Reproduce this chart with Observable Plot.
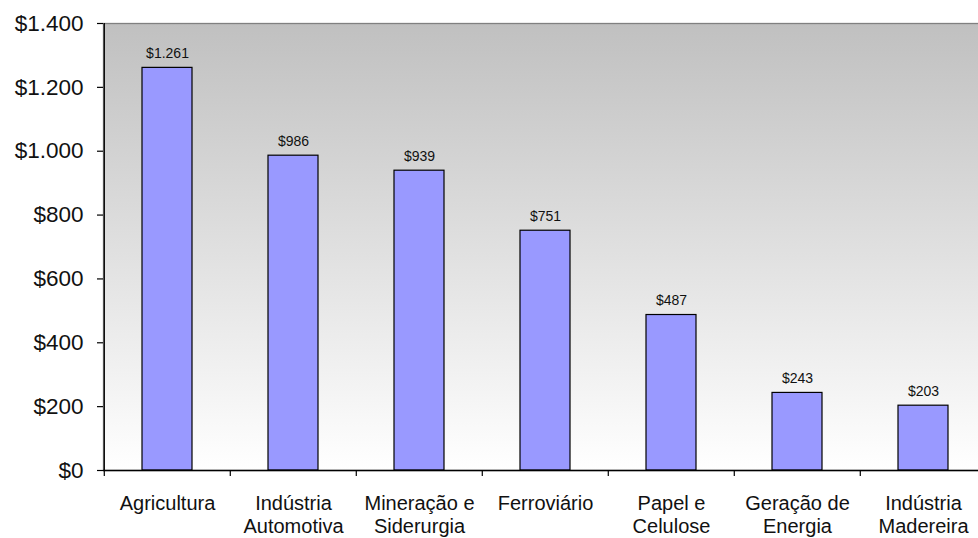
<!DOCTYPE html>
<html>
<head>
<meta charset="utf-8">
<script src="https://cdn.jsdelivr.net/npm/d3@7"></script>
<script src="https://cdn.jsdelivr.net/npm/@observablehq/plot@0.6"></script>
<style>
  html, body { margin: 0; padding: 0; background: #fff; overflow: hidden; }
  #chart { width: 978px; height: 538px; overflow: hidden; }
  #chart svg { display: block; max-width: none !important; }
</style>
</head>
<body>
<div id="chart"></div>
<script>
const categories = ["Agricultura", "Indústria Automotiva", "Mineração e Siderurgia", "Ferroviário", "Papel e Celulose", "Geração de Energia", "Indústria Madereira"];
const xLabels = ["Agricultura", "Indústria\nAutomotiva", "Mineração e\nSiderurgia", "Ferroviário", "Papel e\nCelulose", "Geração de\nEnergia", "Indústria\nMadereira"];
const values = [1261, 986, 939, 751, 487, 243, 203];
const yTicks = [0, 200, 400, 600, 800, 1000, 1200, 1400];

const data = categories.map((c, i) => ({category: c, value: values[i]}));
const labelOf = new Map(categories.map((c, i) => [c, xLabels[i]]));

const locale = d3.formatLocale({decimal: ",", thousands: ".", grouping: [3], currency: ["$", ""]});
const fmt = locale.format("$,.0f");

const W = 988, H = 538, mL = 103, mR = 0, mT = 23, mB = 68;
const step = (W - mL - mR) / categories.length;

const chart = Plot.plot({
  width: W,
  height: H,
  marginLeft: mL,
  marginRight: mR,
  marginTop: mT,
  marginBottom: mB,
  style: {fontFamily: "'Liberation Sans', Arial, sans-serif", background: "white", color: "black", overflow: "visible", maxWidth: "none"},
  x: {domain: categories, paddingInner: 0.6, paddingOuter: 0.3},
  y: {domain: [0, 1400]},
  marks: [
    Plot.frame({fill: "url(#bgGrad)", stroke: "#808080", strokeWidth: 1.3}),
    Plot.barY(data, {x: "category", y: "value", fill: "#9999FF", stroke: "#000", strokeWidth: 1.2}),
    Plot.text(data, {x: "category", y: "value", text: d => fmt(d.value), lineAnchor: "bottom", dy: -10, fontSize: 14, fill: "#111"}),
    Plot.ruleX([categories[0]], {dx: -step / 2, y1: 0, y2: 1400, stroke: "#000", strokeWidth: 1.3}),
    Plot.ruleY([0], {stroke: "#000", strokeWidth: 1.3}),
    Plot.ruleX(categories, {dx: -step / 2, y1: 0, y2: 0, insetBottom: -6, stroke: "#000", strokeWidth: 1.2}),
    Plot.axisY({ticks: yTicks, tickFormat: fmt, tickSize: 6, tickPadding: 14, fontSize: 22.5, stroke: "#000", fill: "#111", strokeWidth: 1.2, label: null}),
    Plot.axisX({tickSize: 0, tickPadding: 23.5, fontSize: 20, lineHeight: 1.15, fill: "#111", tickFormat: d => labelOf.get(d), label: null})
  ]
});

const svgNS = "http://www.w3.org/2000/svg";
const defs = document.createElementNS(svgNS, "defs");
const grad = document.createElementNS(svgNS, "linearGradient");
grad.setAttribute("id", "bgGrad");
grad.setAttribute("x1", "0"); grad.setAttribute("y1", "0");
grad.setAttribute("x2", "0"); grad.setAttribute("y2", "1");
[["0%", "#c0c0c0"], ["100%", "#ffffff"]].forEach(([o, c]) => {
  const s = document.createElementNS(svgNS, "stop");
  s.setAttribute("offset", o); s.setAttribute("stop-color", c);
  grad.appendChild(s);
});
defs.appendChild(grad);
chart.insertBefore(defs, chart.firstChild);
chart.querySelectorAll('[aria-label="frame"]').forEach(el => {
  el.setAttribute("fill", "url(#bgGrad)");
  el.querySelectorAll("rect").forEach(r => r.setAttribute("fill", "url(#bgGrad)"));
});
chart.style.maxWidth = "none";
chart.style.width = W + "px";
chart.style.height = H + "px";

document.getElementById("chart").appendChild(chart);
</script>
</body>
</html>
